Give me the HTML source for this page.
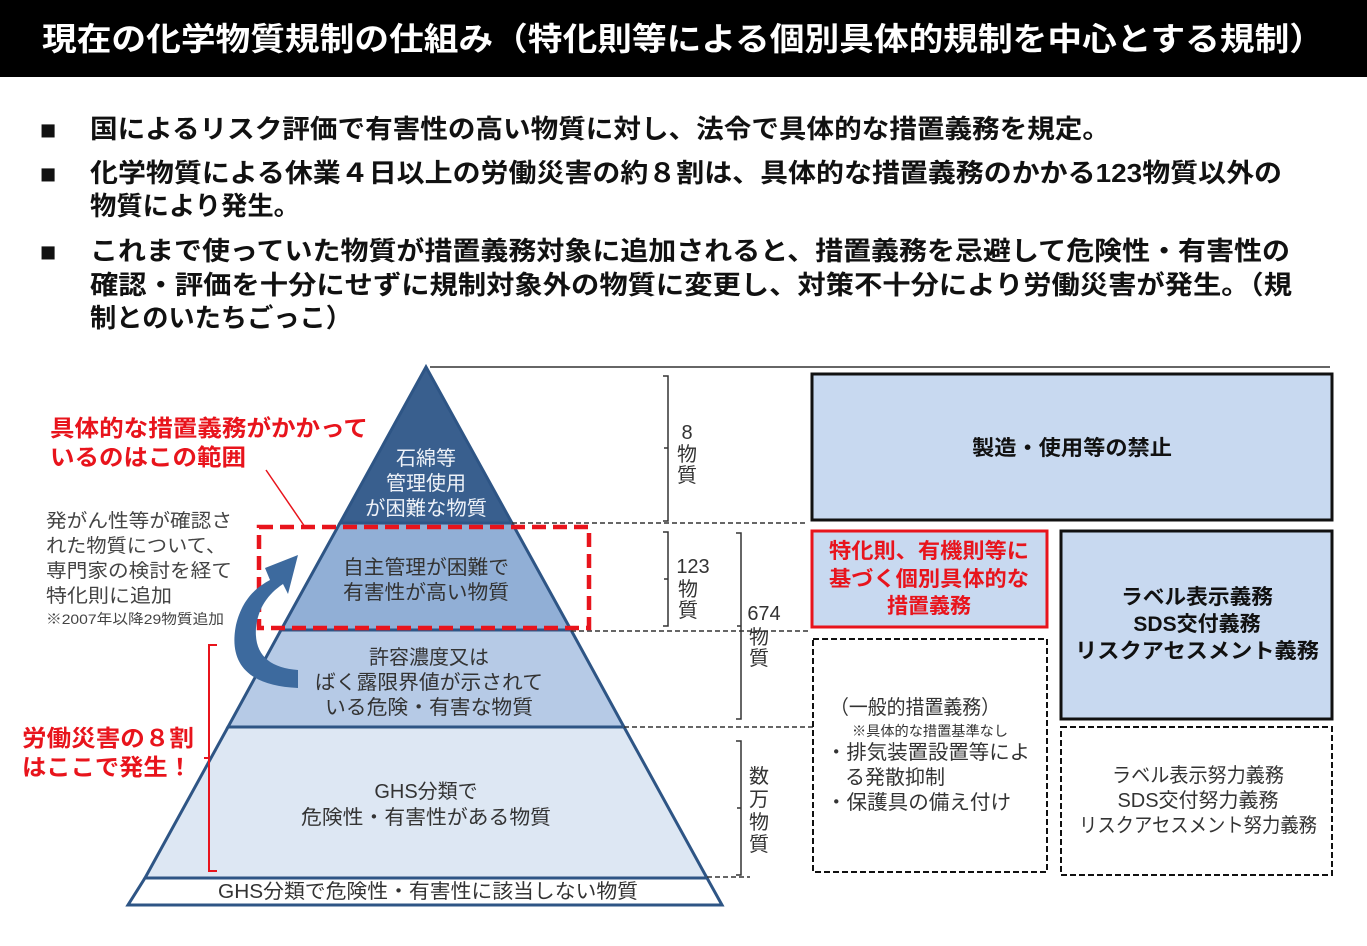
<!DOCTYPE html>
<html><head><meta charset="utf-8">
<style>
html,body{margin:0;padding:0;background:#fff;}
svg{display:block;}
text{font-family:"Liberation Sans","Noto Sans CJK JP",sans-serif;}
</style></head>
<body>
<svg width="1367" height="946" viewBox="0 0 1367 946" xmlns="http://www.w3.org/2000/svg">
<rect x="0" y="0" width="1367" height="946" fill="#fff"/>
<rect x="0" y="0" width="1367" height="77" fill="#000"/>
<text x="42" y="50" font-size="32" font-weight="bold" fill="#fff" textLength="1282" lengthAdjust="spacingAndGlyphs">現在の化学物質規制の仕組み（特化則等による個別具体的規制を中心とする規制）</text>

<g font-size="26" font-weight="bold" fill="#111">
<text x="40" y="139" font-size="27">■</text>
<text x="90" y="138" textLength="1020" lengthAdjust="spacingAndGlyphs">国によるリスク評価で有害性の高い物質に対し、法令で具体的な措置義務を規定。</text>
<text x="40" y="183" font-size="27">■</text>
<text x="90" y="182" textLength="1192" lengthAdjust="spacingAndGlyphs">化学物質による休業４日以上の労働災害の約８割は、具体的な措置義務のかかる123物質以外の</text>
<text x="90" y="215" textLength="210" lengthAdjust="spacingAndGlyphs">物質により発生。</text>
<text x="40" y="261" font-size="27">■</text>
<text x="90" y="260" textLength="1200" lengthAdjust="spacingAndGlyphs">これまで使っていた物質が措置義務対象に追加されると、措置義務を忌避して危険性・有害性の</text>
<text x="90" y="294" textLength="1202" lengthAdjust="spacingAndGlyphs">確認・評価を十分にせずに規制対象外の物質に変更し、対策不十分により労働災害が発生。（規</text>
<text x="90" y="327" textLength="262" lengthAdjust="spacingAndGlyphs">制とのいたちごっこ）</text>
</g>

<line x1="430" y1="367" x2="1330" y2="367" stroke="#333" stroke-width="1.5"/>

<polygon points="426,367 512,523 340,523" fill="#395f8e" stroke="#2e5585" stroke-width="3"/>
<polygon points="340,523 512,523 571,630 281,630" fill="#91afd6" stroke="#2e5585" stroke-width="3"/>
<polygon points="281,630 571,630 624,727 228,727" fill="#b6cae6" stroke="#2e5585" stroke-width="3"/>
<polygon points="228,727 624,727 707,878 145,878" fill="#dde7f3" stroke="#2e5585" stroke-width="3"/>
<polygon points="145,878 707,878 722,905 128,905" fill="#fff" stroke="#2e5585" stroke-width="3"/>

<g font-size="20" fill="#eef2f8" text-anchor="middle">
<text x="426" y="465">石綿等</text>
<text x="426" y="490">管理使用</text>
<text x="426" y="515" textLength="122" lengthAdjust="spacingAndGlyphs">が困難な物質</text>
</g>
<g font-size="20" fill="#333" text-anchor="middle">
<text x="426" y="574" textLength="166" lengthAdjust="spacingAndGlyphs">自主管理が困難で</text>
<text x="426" y="599" textLength="166" lengthAdjust="spacingAndGlyphs">有害性が高い物質</text>
<text x="429" y="664">許容濃度又は</text>
<text x="429" y="689" textLength="228" lengthAdjust="spacingAndGlyphs">ばく露限界値が示されて</text>
<text x="429" y="714" textLength="208" lengthAdjust="spacingAndGlyphs">いる危険・有害な物質</text>
<text x="426" y="798">GHS分類で</text>
<text x="426" y="824" textLength="250" lengthAdjust="spacingAndGlyphs">危険性・有害性がある物質</text>
<text x="428" y="898" textLength="420" lengthAdjust="spacingAndGlyphs">GHS分類で危険性・有害性に該当しない物質</text>
</g>

<g stroke="#333" stroke-width="1.5" stroke-dasharray="5,3" fill="none">
<line x1="512" y1="523" x2="805" y2="523"/>
<line x1="571" y1="631" x2="810" y2="631"/>
<line x1="624" y1="727" x2="813" y2="727"/>
<line x1="707" y1="877" x2="750" y2="877"/>
</g>

<g stroke="#333" stroke-width="1.5" fill="none">
<path d="M663,376 h5 v145 h-5 M668,448 h-4"/>
<path d="M663,532 h5 v94 h-5 M668,579 h-4"/>
<path d="M736,533 h5 v186 h-5 M741,626 h-4"/>
<path d="M736,741 h5 v134 h-5 M741,808 h-4"/>
</g>
<g font-size="20" fill="#333" text-anchor="middle">
<text x="687" y="439">8</text>
<text x="687" y="461">物</text>
<text x="687" y="482">質</text>
<text x="693" y="573">123</text>
<text x="688" y="596">物</text>
<text x="688" y="617">質</text>
<text x="764" y="620">674</text>
<text x="759" y="644">物</text>
<text x="759" y="665">質</text>
<text x="759" y="783">数</text>
<text x="759" y="806">万</text>
<text x="759" y="829">物</text>
<text x="759" y="851">質</text>
</g>

<rect x="259" y="527" width="330" height="101" fill="none" stroke="#e8141c" stroke-width="4.5" stroke-dasharray="14,7"/>
<line x1="266" y1="470" x2="305" y2="527" stroke="#e8141c" stroke-width="1.5"/>
<g font-size="23" font-weight="bold" fill="#e8141c">
<text x="50" y="436" textLength="318" lengthAdjust="spacingAndGlyphs">具体的な措置義務がかかって</text>
<text x="50" y="465" textLength="196" lengthAdjust="spacingAndGlyphs">いるのはこの範囲</text>
<text x="22" y="746" textLength="172" lengthAdjust="spacingAndGlyphs">労働災害の８割</text>
<text x="22" y="775" textLength="170" lengthAdjust="spacingAndGlyphs">はここで発生！</text>
</g>
<path d="M217,645 h-8 v226 h8 M209,758 h-5" stroke="#e8141c" stroke-width="2" fill="none"/>

<g font-size="19" fill="#444">
<text x="46" y="527" textLength="186" lengthAdjust="spacingAndGlyphs">発がん性等が確認さ</text>
<text x="46" y="552" textLength="180" lengthAdjust="spacingAndGlyphs">れた物質について、</text>
<text x="46" y="577" textLength="186" lengthAdjust="spacingAndGlyphs">専門家の検討を経て</text>
<text x="46" y="602" textLength="126" lengthAdjust="spacingAndGlyphs">特化則に追加</text>
<text x="46" y="624" font-size="14" textLength="178" lengthAdjust="spacingAndGlyphs">※2007年以降29物質追加</text>
</g>

<path d="M298,688 C250,686 228,665 236,625 C242,600 255,588 270,580 L265,568 L298,555 L288,594 L283,584 C268,594 258,608 256,628 C254,655 270,668 298,670 Z" fill="#3d6a9e"/>

<rect x="812" y="374" width="520" height="146" fill="#c8d9f0" stroke="#111" stroke-width="3"/>
<text x="1072" y="455" font-size="21" font-weight="bold" fill="#111" text-anchor="middle" textLength="200" lengthAdjust="spacingAndGlyphs">製造・使用等の禁止</text>

<rect x="812" y="531" width="235" height="96" fill="#c8d9f0" stroke="#e8141c" stroke-width="3"/>
<g font-size="21" font-weight="bold" fill="#e8141c" text-anchor="middle">
<text x="929" y="558" textLength="200" lengthAdjust="spacingAndGlyphs">特化則、有機則等に</text>
<text x="929" y="586" textLength="200" lengthAdjust="spacingAndGlyphs">基づく個別具体的な</text>
<text x="929" y="613">措置義務</text>
</g>

<rect x="1061" y="531" width="271" height="188" fill="#c8d9f0" stroke="#111" stroke-width="3"/>
<g font-size="21" font-weight="bold" fill="#111" text-anchor="middle">
<text x="1197" y="604" textLength="152" lengthAdjust="spacingAndGlyphs">ラベル表示義務</text>
<text x="1197" y="631">SDS交付義務</text>
<text x="1197" y="658" textLength="244" lengthAdjust="spacingAndGlyphs">リスクアセスメント義務</text>
</g>

<rect x="813" y="639" width="234" height="233" fill="#fff" stroke="#111" stroke-width="2" stroke-dasharray="6,3"/>
<g font-size="20" fill="#333">
<text x="830" y="714" textLength="170" lengthAdjust="spacingAndGlyphs">（一般的措置義務）</text>
<text x="852" y="736" font-size="14" textLength="156" lengthAdjust="spacingAndGlyphs">※具体的な措置基準なし</text>
<text x="826" y="759" textLength="204" lengthAdjust="spacingAndGlyphs">・排気装置設置等によ</text>
<text x="845" y="784">る発散抑制</text>
<text x="826" y="809" textLength="185" lengthAdjust="spacingAndGlyphs">・保護具の備え付け</text>
</g>

<rect x="1061" y="727" width="271" height="148" fill="#fff" stroke="#111" stroke-width="2" stroke-dasharray="6,3"/>
<g font-size="20" fill="#333" text-anchor="middle">
<text x="1198" y="782" textLength="172" lengthAdjust="spacingAndGlyphs">ラベル表示努力義務</text>
<text x="1198" y="807">SDS交付努力義務</text>
<text x="1198" y="832" textLength="238" lengthAdjust="spacingAndGlyphs">リスクアセスメント努力義務</text>
</g>
</svg>
</body></html>
